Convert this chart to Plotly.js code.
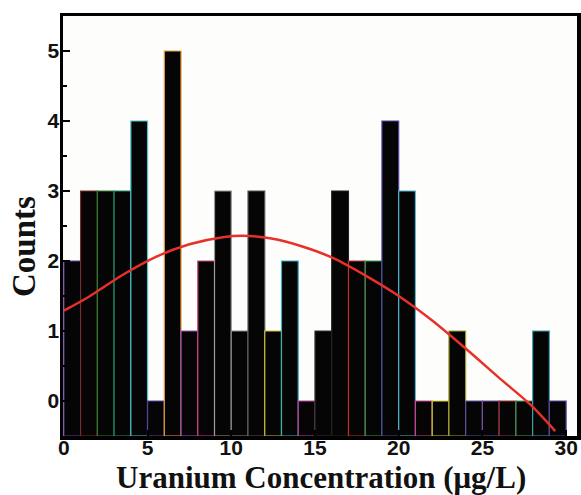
<!DOCTYPE html>
<html>
<head>
<meta charset="utf-8">
<script src="https://cdn.plot.ly/plotly-3.0.1.min.js"></script>
<style>html,body{margin:0;padding:0;background:#fff;}#chart{width:581px;height:495px;}</style>
</head>
<body>
<div id="chart"></div>
<script>
// Histogram bins (left edges) and counts
var binStarts = [0,1,2,3,4,5,6,7,8,9,10,11,12,13,14,15,16,17,18,19,20,21,22,23,24,25,26,27,28,29];
var counts    = [2,3,3,3,4,0,5,1,2,3,1,3,1,2,0,1,3,2,2,4,3,0,0,1,0,0,0,0,1,0];
var binWidth = 1;
var baseline = -0.5;

// Fitted curve points
var fitX = [0, 1.5, 3.5, 5.5, 7.5, 9.5, 10.7, 12.4, 14.2, 16.1, 18.1, 20.0, 22.0, 24.0, 26.0, 27.9, 29.35];
var fitY = [1.29, 1.49, 1.80, 2.06, 2.24, 2.34, 2.36, 2.32, 2.21, 2.04, 1.78, 1.50, 1.15, 0.75, 0.33, -0.06, -0.43];

var outlineColors = ['#6a3d9a','#7a2a2a','#2e7d32','#1f8a70','#4fc3d0','#5b3fa0','#f0a040','#a050c0','#d04080','#9a9a9a',
                     '#8a8a8a','#555555','#d8c030','#40b0c0','#c040a0','#333333','#222222','#c03030','#30a050','#5040a0',
                     '#50b8d0','#d04090','#e0d030','#a0a030','#6050a0','#7050a0','#a03030','#40a060','#40a0b0','#6040a0'];

var xTicks = [0,5,10,15,20,25,30];
var yTicks = [0,1,2,3,4,5];

var barTrace = {
  type: 'bar',
  x: binStarts.map(function(s){ return s + binWidth/2; }),
  y: counts.map(function(c){ return c - baseline; }),
  base: baseline,
  width: binWidth,
  marker: {color: '#050505', line: {color: outlineColors, width: 1.2}},
  hoverinfo: 'skip',
  showlegend: false
};

var fitTrace = {
  type: 'scatter',
  mode: 'lines',
  x: fitX,
  y: fitY,
  line: {color: '#e8302a', width: 2.5, shape: 'spline', smoothing: 0.8},
  showlegend: false
};

var tickFont = {family: 'Liberation Sans, Arial, sans-serif', size: 21, color: '#111', weight: 'bold'};
var titleFont = {family: 'Liberation Serif, Times New Roman, serif', size: 31, color: '#111', weight: 'bold'};

var layout = {
  width: 581,
  height: 495,
  margin: {l: 63, r: 4, t: 16, b: 59},
  paper_bgcolor: '#ffffff',
  plot_bgcolor: '#fdfdfc',
  bargap: 0,
  xaxis: {
    range: [-0.05, 30.65],
    tickvals: xTicks,
    ticktext: xTicks.map(String),
    ticks: 'inside', ticklen: 6, tickwidth: 2, tickcolor: '#000',
    showgrid: false, zeroline: false,
    showline: true, linecolor: '#000', linewidth: 3.5, mirror: true,
    tickfont: tickFont,
    ticklabelstandoff: -10
  },
  yaxis: {
    range: [-0.5, 5.5],
    tickvals: yTicks,
    ticktext: yTicks.map(String),
    ticks: 'inside', ticklen: 7, tickwidth: 2.5, tickcolor: '#000',
    minor: {dtick: 0.5, ticks: 'inside', ticklen: 4, tickwidth: 2, tickcolor: '#000', showgrid: false},
    showgrid: false, zeroline: false,
    showline: true, linecolor: '#000', linewidth: 3.5, mirror: true,
    tickfont: tickFont,
    ticklabelstandoff: -4
  },
  annotations: [{
    text: 'Counts',
    xref: 'paper', yref: 'paper',
    x: (24 - 63) / 514, y: (436 - 247) / 420,
    xanchor: 'center', yanchor: 'middle',
    textangle: -90,
    showarrow: false,
    font: {family: 'Liberation Serif, Times New Roman, serif', size: 33, color: '#111', weight: 'bold'}
  }, {
    text: 'Uranium Concentration (\u03bcg/L)',
    xref: 'paper', yref: 'paper',
    x: (321 - 63) / 514, y: (436 - 477) / 420,
    xanchor: 'center', yanchor: 'middle',
    showarrow: false,
    font: titleFont
  }]
};

Plotly.newPlot('chart', [barTrace, fitTrace], layout, {displayModeBar: false, staticPlot: true});
</script>
</body>
</html>
